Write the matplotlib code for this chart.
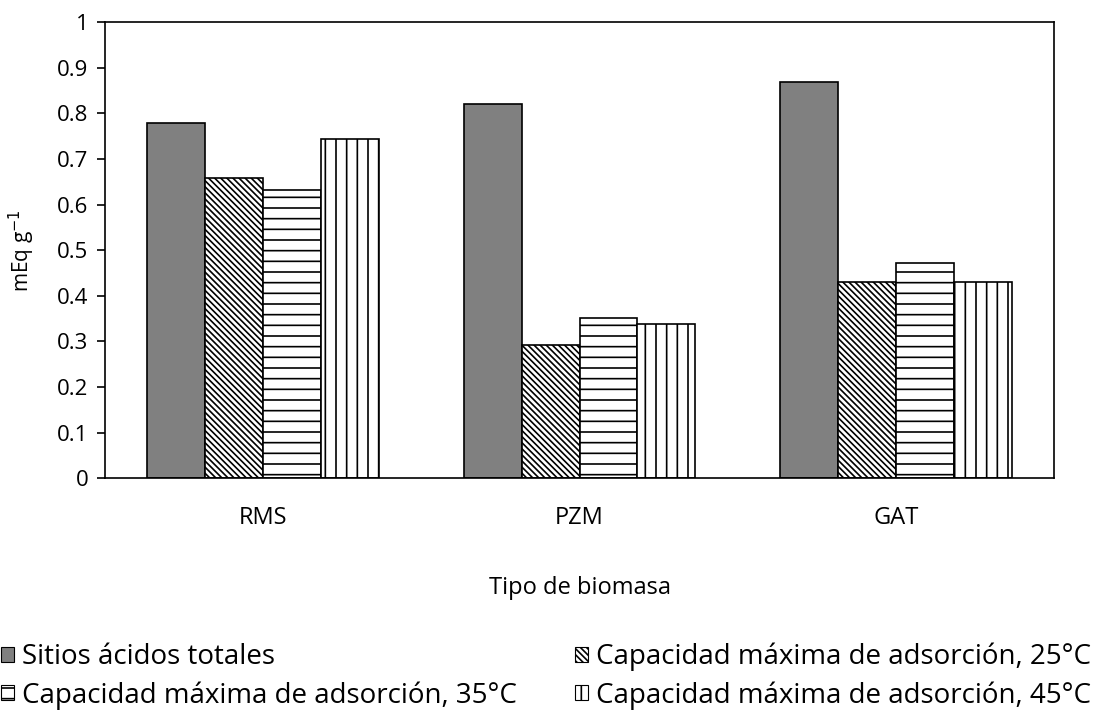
import numpy as np
import matplotlib.pyplot as plt
from matplotlib.patches import Patch

# render at 128 dpi so the hatch spacing comes out close to the original
DPI = 128
k = 100 / DPI

plt.rcParams['font.family'] = ['Open Sans', 'DejaVu Sans']
plt.rcParams['hatch.linewidth'] = 1.2 * k

categories = ['RMS', 'PZM', 'GAT']
series_names = ['Sitios ácidos totales',
                'Capacidad máxima de adsorción, 25°C',
                'Capacidad máxima de adsorción, 35°C',
                'Capacidad máxima de adsorción, 45°C']
sitios = [0.78, 0.82, 0.869]
cap25 = [0.658, 0.293, 0.43]
cap35 = [0.632, 0.352, 0.471]
cap45 = [0.744, 0.338, 0.43]
yticks = [0, 0.1, 0.2, 0.3, 0.4, 0.5, 0.6, 0.7, 0.8, 0.9, 1]

fig = plt.figure(figsize=(1098 / DPI, 718 / DPI), dpi=DPI)
ax = fig.add_axes([0.0956, 0.334, 0.8644, 0.635])

x = np.arange(len(categories))
w = 0.183
styles = [dict(color='#808080', hatch=None),
          dict(color='white', hatch='\\' * 7),
          dict(color='white', hatch='--'),
          dict(color='white', hatch='||')]
handles = []
for i, (vals, st) in enumerate(zip([sitios, cap25, cap35, cap45], styles)):
    ax.bar(x + (i - 1.5) * w, vals, w, color=st['color'], hatch=st['hatch'],
           edgecolor='black', linewidth=1.2 * k)
    handles.append(Patch(facecolor=st['color'], hatch=st['hatch'],
                         edgecolor='black', linewidth=0.8 * k, label=series_names[i]))

ax.set_xlim(-0.5, 2.5)
ax.set_ylim(0, 1)
ax.set_yticks(yticks)
ax.set_yticklabels([f'{t:g}' for t in yticks], fontsize=16 * k)
ax.set_xticks(x)
ax.set_xticklabels(categories, fontsize=17 * k)
ax.tick_params(axis='x', length=0, pad=20 * k)
ax.tick_params(axis='y', direction='out', length=6 * k, width=1.2 * k, pad=6 * k)
for s in ax.spines.values():
    s.set_linewidth(1.2 * k)
ax.set_ylabel('mEq g$^{-1}$', fontsize=15 * k)
ax.yaxis.set_label_coords(-0.072, 0.5)
ax.set_xlabel('Tipo de biomasa', fontsize=17 * k)
ax.xaxis.set_label_coords(0.5, -0.215)

order = [0, 2, 1, 3]
fig.legend([handles[i] for i in order], [series_names[i] for i in order],
           ncol=2, loc='upper left', bbox_to_anchor=(-0.009, 0.12),
           frameon=False, fontsize=20 * k, handlelength=0.45, handleheight=0.45,
           handletextpad=0.3, columnspacing=2.1, labelspacing=0.35,
           borderaxespad=0)

fig.savefig('out.png', dpi=DPI)
